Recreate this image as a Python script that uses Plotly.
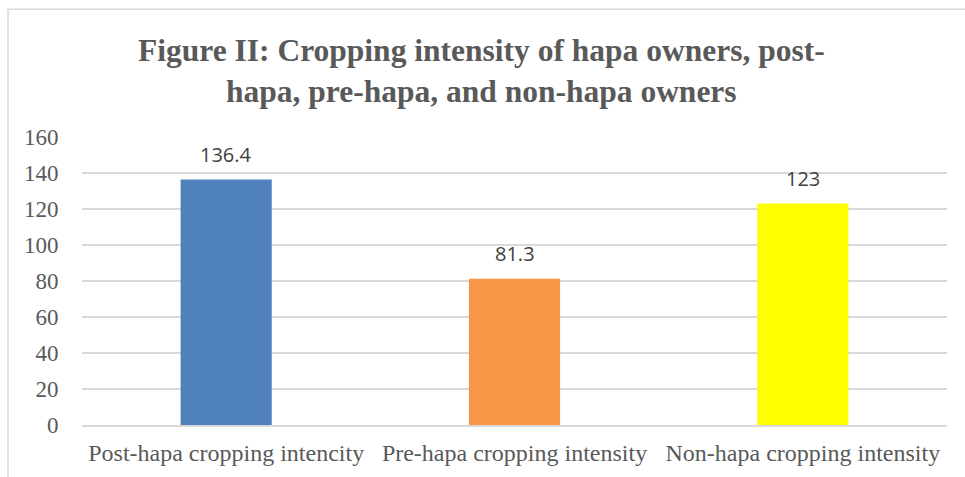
import plotly.graph_objects as go

categories = ["Post-hapa cropping intencity", "Pre-hapa cropping intensity", "Non-hapa cropping intensity"]
values = [136.4, 81.3, 123]
value_labels = ["136.4", "81.3", "123"]
bar_colors = ["#4F81BD", "#F79646", "#FFFF00"]
y_ticks = [0, 20, 40, 60, 80, 100, 120, 140, 160]
title_text = "Figure II: Cropping intensity of hapa owners, post-<br>hapa, pre-hapa, and non-hapa owners"

W, H = 965, 477
L, R, T, B = 82, 18, 136.7, 52.3
pw, ph = W - L - R, H - T - B

def px_x(x):
    return (x - L) / pw

def px_y(y):
    return (H - B - y) / ph

fig = go.Figure()
fig.add_trace(go.Bar(
    x=categories, y=values, marker_color=bar_colors, marker_line_width=0,
    width=0.316, hoverinfo="skip",
))

for c, v, t in zip(categories, values, value_labels):
    fig.add_annotation(x=c, y=v, text=t, showarrow=False, yanchor="middle", yshift=25,
                       font=dict(family="Open Sans", size=20, color="#404040"))

fig.add_annotation(xref="paper", yref="paper", x=px_x(481), y=px_y(71), text=title_text,
                   showarrow=False, xanchor="center", yanchor="middle", align="center",
                   font=dict(family="Liberation Serif", size=31.5, color="#595959", weight="bold"))

fig.add_shape(type="rect", xref="paper", yref="paper",
              x0=px_x(8), x1=px_x(1000), y0=px_y(520), y1=px_y(9),
              line=dict(color="#D9D9D9", width=1.5), fillcolor="rgba(0,0,0,0)", layer="below")

fig.update_layout(
    width=W, height=H, margin=dict(l=L, r=R, t=T, b=B, pad=0),
    paper_bgcolor="white", plot_bgcolor="white", showlegend=False, bargap=0.684,
    font=dict(family="Liberation Serif", size=22, color="#595959"),
)
fig.update_xaxes(showgrid=False, showline=True, linecolor="#D9D9D9", linewidth=1.5,
                 ticks="outside", ticklen=5, tickcolor="rgba(0,0,0,0)",
                 tickfont=dict(family="Liberation Serif", size=24, color="#595959"))
fig.update_yaxes(range=[0, 160], tickvals=y_ticks, showgrid=True, gridcolor="#D9D9D9", gridwidth=1.5,
                 zeroline=False, showline=False, ticks="outside", ticklen=18, tickcolor="rgba(0,0,0,0)",
                 tickfont=dict(family="Liberation Serif", size=23, color="#595959"))

fig.write_html("out.html")
